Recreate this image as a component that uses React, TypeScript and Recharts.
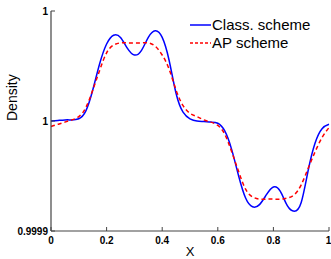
import { LineChart, Line, XAxis, YAxis } from 'recharts';

// x positions and density deviations (units of 1e-4 around 1)
const xs = [
  0, 0.025, 0.05, 0.075, 0.1, 0.125, 0.15, 0.175, 0.2, 0.225,
  0.25, 0.275, 0.3, 0.325, 0.35, 0.375, 0.4, 0.425, 0.45, 0.475,
  0.5, 0.525, 0.55, 0.575, 0.6, 0.625, 0.65, 0.675, 0.7, 0.725,
  0.75, 0.775, 0.8, 0.825, 0.85, 0.875, 0.9, 0.925, 0.95, 0.975, 1,
];
const classScheme = [
  0, 0.005, 0.01, 0.01, 0.02, 0.09, 0.28, 0.52, 0.7, 0.78,
  0.76, 0.66, 0.6, 0.64, 0.76, 0.82, 0.76, 0.55, 0.25, 0.08,
  0.02, 0, -0.005, -0.01, -0.02, -0.09, -0.26, -0.5, -0.7, -0.78,
  -0.76, -0.67, -0.6, -0.64, -0.77, -0.82, -0.74, -0.45, -0.2, -0.07, -0.03,
];
const apScheme = [
  -0.05, -0.03, -0.01, 0.01, 0.04, 0.12, 0.28, 0.46, 0.62, 0.69,
  0.71, 0.71, 0.71, 0.71, 0.71, 0.68, 0.6, 0.47, 0.28, 0.14,
  0.07, 0.04, 0.01, -0.01, -0.04, -0.12, -0.28, -0.46, -0.62, -0.69,
  -0.71, -0.71, -0.71, -0.71, -0.7, -0.67, -0.58, -0.43, -0.28, -0.15, -0.06,
];
const xTicks = [0, 0.2, 0.4, 0.6, 0.8, 1];
const yTicks = [-1, 0, 1];
const yTickLabels: Record<string, string> = { '-1': '0.9999', '0': '1', '1': '1' };

const data = xs.map((x, i) => ({ x, cls: classScheme[i], ap: apScheme[i] }));

const font = 'Liberation Sans, Arial, Helvetica, sans-serif';

function LegendBox() {
  const rows = [
    { name: 'Class. scheme', color: '#0000ff', dash: undefined },
    { name: 'AP scheme', color: '#ff0000', dash: '3 2' },
  ];
  return (
    <div style={{ position: 'absolute', left: 189, top: 16, fontFamily: font, fontSize: 15, color: '#000', lineHeight: '18px' }}>
      {rows.map(r => (
        <div key={r.name} style={{ display: 'flex', alignItems: 'center' }}>
          <svg width={23} height={18}>
            <line x1={1} x2={22} y1={9} y2={9} stroke={r.color} strokeWidth={1.5} strokeDasharray={r.dash} />
          </svg>
          <span>{r.name}</span>
        </div>
      ))}
    </div>
  );
}

export default function App() {
  return (
    <div style={{ position: 'absolute', left: 0, top: 0, width: 331, height: 259, background: '#fff' }}>
      <LineChart width={331} height={259} data={data} margin={{ top: 11, right: 2, left: 0, bottom: 0 }}>
        <XAxis
          dataKey="x"
          type="number"
          domain={[0, 1]}
          ticks={xTicks}
          tickFormatter={(v: number) => String(v)}
          axisLine={{ stroke: '#444', strokeWidth: 1.2 }}
          tickLine={{ stroke: '#444' }}
          tickSize={-4}
          tickMargin={10}
          tick={{ fill: '#000', fontSize: 10, fontWeight: 'bold', fontFamily: font }}
          height={28}
          label={{ value: 'X', position: 'insideBottom', offset: 3, fill: '#000', fontSize: 13, fontFamily: font }}
        />
        <YAxis
          type="number"
          domain={[-1, 1]}
          ticks={yTicks}
          tickFormatter={(v: number) => yTickLabels[String(v)]}
          axisLine={{ stroke: '#444', strokeWidth: 1.2 }}
          tickLine={{ stroke: '#444' }}
          tickSize={-4}
          tickMargin={7}
          width={51}
          tick={{ fill: '#000', fontSize: 10, fontWeight: 'bold', fontFamily: font }}
          label={{ value: 'Density', angle: -90, position: 'insideLeft', offset: 12, fill: '#000', fontSize: 14, fontFamily: font }}
        />
        <Line type="natural" dataKey="cls" stroke="#0000ff" strokeWidth={1.5} dot={false} isAnimationActive={false} />
        <Line type="natural" dataKey="ap" stroke="#ff0000" strokeWidth={1.5} strokeDasharray="4 3" dot={false} isAnimationActive={false} />
      </LineChart>
      <LegendBox />
    </div>
  );
}
